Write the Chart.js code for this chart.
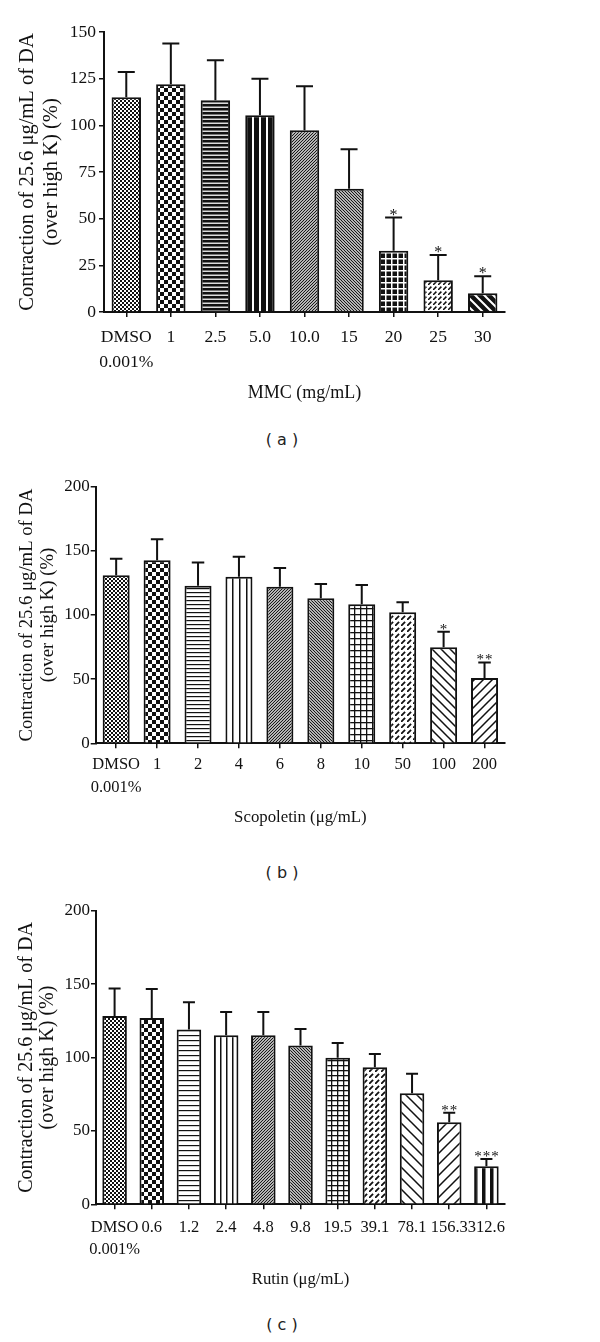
<!DOCTYPE html>
<html>
<head>
<meta charset="utf-8">
<script src="https://cdn.jsdelivr.net/npm/chart.js@4.4.0/dist/chart.umd.min.js"></script>
<style>
  html, body { margin: 0; padding: 0; background: #fff; }
  #page { position: relative; width: 600px; height: 1342px; overflow: hidden; }
  canvas { position: absolute; left: 0; }
  .cap { position: absolute; left: 0; width: 564px; text-align: center; line-height: 20px;
         font-family: 'DejaVu Sans', sans-serif; font-size: 16px; color: #222; }
</style>
</head>
<body>
<div id="page">
  <canvas id="chartA" width="600" height="420" style="top:0px"></canvas>
  <div class="cap" style="top:430px">( a )</div>
  <canvas id="chartB" width="600" height="400" style="top:440px"></canvas>
  <div class="cap" style="top:863px">( b )</div>
  <canvas id="chartC" width="600" height="420" style="top:880px"></canvas>
  <div class="cap" style="top:1315px">( c )</div>
</div>
<script>
'use strict';

// ---- panel (a): MMC ----
var mmcLabels = [['DMSO', '0.001%'], '1', '2.5', '5.0', '10.0', '15', '20', '25', '30'];
var mmcMeans = [115, 122, 113.4, 105.4, 97.3, 66, 32.8, 17, 10];
var mmcErrors = [13.6, 21.8, 21.4, 19.6, 23.6, 21.2, 17.8, 13.6, 9.1];
var mmcStars = ['', '', '', '', '', '', '*', '*', '*'];
var mmcTicks = [0, 25, 50, 75, 100, 125, 150];

// ---- panel (b): Scopoletin ----
var scoLabels = [['DMSO', '0.001%'], '1', '2', '4', '6', '8', '10', '50', '100', '200'];
var scoMeans = [130.9, 142.7, 122.8, 129.9, 122, 113, 108.3, 102.1, 74.8, 50.8];
var scoErrors = [13, 16.3, 18.2, 15.5, 14.6, 11.2, 15.1, 7.8, 12.2, 12.2];
var scoStars = ['', '', '', '', '', '', '', '', '*', '**'];
var scoTicks = [0, 50, 100, 150, 200];

// ---- panel (c): Rutin ----
var rutLabels = [['DMSO', '0.001%'], '0.6', '1.2', '2.4', '4.8', '9.8', '19.5', '39.1', '78.1', '156.3', '312.6'];
var rutMeans = [128.2, 126.9, 119.1, 115.1, 115.1, 108.1, 99.8, 93.3, 75.7, 55.9, 26];
var rutErrors = [18.8, 19.7, 18.6, 15.9, 15.9, 11.3, 10.1, 9.1, 13.2, 6.4, 4.8];
var rutStars = ['', '', '', '', '', '', '', '', '', '**', '***'];
var rutTicks = [0, 50, 100, 150, 200];

var yTitle = ['Contraction of 25.6 \u03bcg/mL of DA', '(over high K) (%)'];

Chart.defaults.font.family = "'Liberation Serif', 'Times New Roman', serif";
Chart.defaults.color = '#111';

/* small helpers that build fill patterns for the bars */
function tile(w, h, draw) {
  var c = document.createElement('canvas');
  c.width = w; c.height = h;
  var g = c.getContext('2d');
  draw(g, w, h);
  return g.createPattern(c, 'repeat');
}
function checker(size, fg, bg) {
  return tile(size * 2, size * 2, function(g, w, h) {
    g.fillStyle = bg; g.fillRect(0, 0, w, h);
    g.fillStyle = fg; g.fillRect(0, 0, size, size); g.fillRect(size, size, size, size);
  });
}
function hlines(period, lw, fg, bg) {
  return tile(4, period, function(g, w, h) {
    g.fillStyle = bg; g.fillRect(0, 0, w, h);
    g.fillStyle = fg; g.fillRect(0, 0, w, lw);
  });
}
function vlines(period, lw, fg, bg) {
  return tile(period, 4, function(g, w, h) {
    g.fillStyle = bg; g.fillRect(0, 0, w, h);
    g.fillStyle = fg; g.fillRect(0, 0, lw, h);
  });
}
function grid(px, py, lw, fg, bg) {
  return tile(px, py, function(g, w, h) {
    g.fillStyle = bg; g.fillRect(0, 0, w, h);
    g.fillStyle = fg; g.fillRect(0, 0, w, lw); g.fillRect(0, 0, lw, h);
  });
}
function diag(dir, p, lw, fg, bg) {
  return tile(p, p, function(g) {
    g.fillStyle = bg; g.fillRect(0, 0, p, p);
    g.strokeStyle = fg; g.lineWidth = lw;
    g.beginPath();
    for (var k = -1; k <= 1; k++) {
      if (dir === '/') { g.moveTo(-1, p + k * p + 1); g.lineTo(p + 1, k * p - 1); }
      else { g.moveTo(-1, k * p - 1); g.lineTo(p + 1, k * p + p + 1); }
    }
    g.stroke();
  });
}
// broken "/" strokes, the woven look of the 25 / 50 / 39.1 bars
function dashes(p, lw, fg, bg) {
  return tile(p, p, function(g) {
    g.fillStyle = bg; g.fillRect(0, 0, p, p);
    g.strokeStyle = fg; g.lineWidth = lw; g.lineCap = 'butt';
    g.beginPath();
    g.moveTo(0, p); g.lineTo(p * 0.68, p * 0.32);
    g.moveTo(-p, p); g.lineTo(-p * 0.32, p * 0.32);
    g.moveTo(0, 2 * p); g.lineTo(p * 0.68, p * 1.32);
    g.stroke();
  });
}

// line the patterns up with the left edge of their own bar
var patternAlign = {
  id: 'patternAlign',
  beforeDatasetsDraw: function(chart) {
    var fills = chart.data.datasets[0].backgroundColor;
    chart.getDatasetMeta(0).data.forEach(function(bar, i) {
      if (fills[i] && fills[i].setTransform) {
        fills[i].setTransform(new DOMMatrix().translate(Math.round(bar.x - bar.width / 2), 0));
      }
    });
  }
};

// error bars (upper only) plus significance stars
function errorBars(errors, stars, capWidth, starSize, starGap) {
  return {
    id: 'errorBars',
    afterDatasetsDraw: function(chart) {
      var ctx = chart.ctx;
      var yScale = chart.scales.y;
      var means = chart.data.datasets[0].data;
      ctx.save();
      ctx.strokeStyle = '#111';
      ctx.lineWidth = 2;
      chart.getDatasetMeta(0).data.forEach(function(bar, i) {
        var top = yScale.getPixelForValue(means[i] + errors[i]);
        ctx.beginPath();
        ctx.moveTo(bar.x, bar.y);
        ctx.lineTo(bar.x, top);
        ctx.moveTo(bar.x - capWidth / 2, top);
        ctx.lineTo(bar.x + capWidth / 2, top);
        ctx.stroke();
        var n = stars[i].length;
        if (n) {
          ctx.fillStyle = '#111';
          ctx.font = starSize + "px 'Liberation Serif', serif";
          ctx.textAlign = 'center';
          ctx.textBaseline = 'alphabetic';
          for (var j = 0; j < n; j++) {
            ctx.fillText('*', bar.x + (j - (n - 1) / 2) * starGap, top + 2);
          }
        }
      });
      ctx.restore();
    }
  };
}

function buildChart(canvasId, cfg) {
  var ctx = document.getElementById(canvasId).getContext('2d');
  return new Chart(ctx, {
    type: 'bar',
    data: {
      labels: cfg.labels,
      datasets: [{
        data: cfg.means,
        backgroundColor: cfg.patterns,
        borderColor: '#111',
        borderWidth: 2,
        barPercentage: 1,
        categoryPercentage: 0.66
      }]
    },
    options: {
      responsive: false,
      animation: false,
      devicePixelRatio: 1,
      layout: { padding: { top: cfg.top, right: cfg.right, left: 0, bottom: 0 } },
      plugins: { legend: { display: false }, tooltip: { enabled: false } },
      scales: {
        x: {
          offset: true,
          grid: { offset: false, drawOnChartArea: false, tickLength: 5, color: '#111', lineWidth: 1.5 },
          border: { color: '#111', width: 2 },
          ticks: { autoSkip: false, maxRotation: 0, minRotation: 0, padding: cfg.xPad,
                   font: { size: cfg.xFont, lineHeight: cfg.xLine } },
          title: { display: true, text: cfg.xTitle, font: { size: cfg.xTitleSize, lineHeight: 1.2 },
                   padding: { top: 0, bottom: cfg.xTitlePad } },
          afterFit: function(s) { s.height = cfg.xHeight; }
        },
        y: {
          min: cfg.ticks[0],
          max: cfg.ticks[cfg.ticks.length - 1],
          afterBuildTicks: function(s) {
            s.ticks = cfg.ticks.map(function(v) { return { value: v }; });
          },
          grid: { drawOnChartArea: false, tickLength: 5, color: '#111', lineWidth: 1.5 },
          border: { color: '#111', width: 2 },
          ticks: { padding: cfg.yPad, font: { size: cfg.yFont } },
          title: { display: true, text: yTitle, font: { size: cfg.yTitleSize, lineHeight: cfg.yTitleLine },
                   padding: { top: cfg.yTitlePad, bottom: 0 } },
          afterFit: function(s) { s.width = cfg.left; }
        }
      }
    },
    plugins: [patternAlign, errorBars(cfg.errors, cfg.stars, cfg.cap, cfg.starSize, cfg.starGap)]
  });
}

buildChart('chartA', {
  labels: mmcLabels, means: mmcMeans, errors: mmcErrors, stars: mmcStars, ticks: mmcTicks,
  xTitle: 'MMC (mg/mL)',
  patterns: [
    checker(2, '#111', '#fff'),
    checker(4, '#111', '#fff'),
    hlines(4, 2.5, '#111', '#ddd'),
    vlines(7, 2, '#fff', '#111'),
    diag('/', 3, 1.2, '#111', '#fff'),
    diag('\\', 3, 1.2, '#111', '#fff'),
    grid(6, 6, 1.5, '#fff', '#111'),
    dashes(5, 1.5, '#111', '#fff'),
    diag('\\', 9, 2, '#fff', '#111')
  ],
  top: 32, right: 95, left: 104, xHeight: 108,
  xFont: 17.6, xLine: 1.42, xPad: 7.5, xTitleSize: 18, xTitlePad: 16,
  yFont: 17.5, yPad: 3, yTitleSize: 20.5, yTitleLine: 1.17, yTitlePad: 16,
  cap: 17, starSize: 16, starGap: 8
});

buildChart('chartB', {
  labels: scoLabels, means: scoMeans, errors: scoErrors, stars: scoStars, ticks: scoTicks,
  xTitle: 'Scopoletin (\u03bcg/mL)',
  patterns: [
    checker(2, '#111', '#fff'),
    checker(4, '#111', '#fff'),
    hlines(4, 1.2, '#111', '#fff'),
    vlines(7, 1.5, '#111', '#fff'),
    diag('/', 3, 1.2, '#111', '#fff'),
    diag('\\', 3, 1.2, '#111', '#fff'),
    grid(6, 6, 1.3, '#111', '#fff'),
    dashes(6, 1.8, '#111', '#fff'),
    diag('\\', 9, 1.5, '#111', '#fff'),
    diag('/', 9, 1.5, '#111', '#fff')
  ],
  top: 46.7, right: 95, left: 95.7, xHeight: 96.7,
  xFont: 16.5, xLine: 1.4, xPad: 5.2, xTitleSize: 16.8, xTitlePad: 12,
  yFont: 17, yPad: 1, yTitleSize: 18.7, yTitleLine: 1.12, yTitlePad: 16.5,
  cap: 12.5, starSize: 15, starGap: 8.5
});

buildChart('chartC', {
  labels: rutLabels, means: rutMeans, errors: rutErrors, stars: rutStars, ticks: rutTicks,
  xTitle: 'Rutin (\u03bcg/mL)',
  patterns: [
    checker(2, '#111', '#fff'),
    checker(4, '#111', '#fff'),
    hlines(5, 1.2, '#111', '#fff'),
    vlines(6, 1.5, '#111', '#fff'),
    diag('/', 3, 1.2, '#111', '#fff'),
    diag('\\', 3, 1.2, '#111', '#fff'),
    grid(6, 5, 1.3, '#111', '#fff'),
    dashes(6, 1.8, '#111', '#fff'),
    diag('\\', 11, 1.5, '#111', '#fff'),
    diag('/', 11, 1.5, '#111', '#fff'),
    vlines(8, 3.5, '#111', '#fff')
  ],
  top: 30.7, right: 95, left: 96, xHeight: 95.7,
  xFont: 16.5, xLine: 1.33, xPad: 7.7, xTitleSize: 16.7, xTitlePad: 10,
  yFont: 17, yPad: 1, yTitleSize: 20, yTitleLine: 1.05, yTitlePad: 16.5,
  cap: 12, starSize: 15, starGap: 8.5
});
</script>
</body>
</html>
